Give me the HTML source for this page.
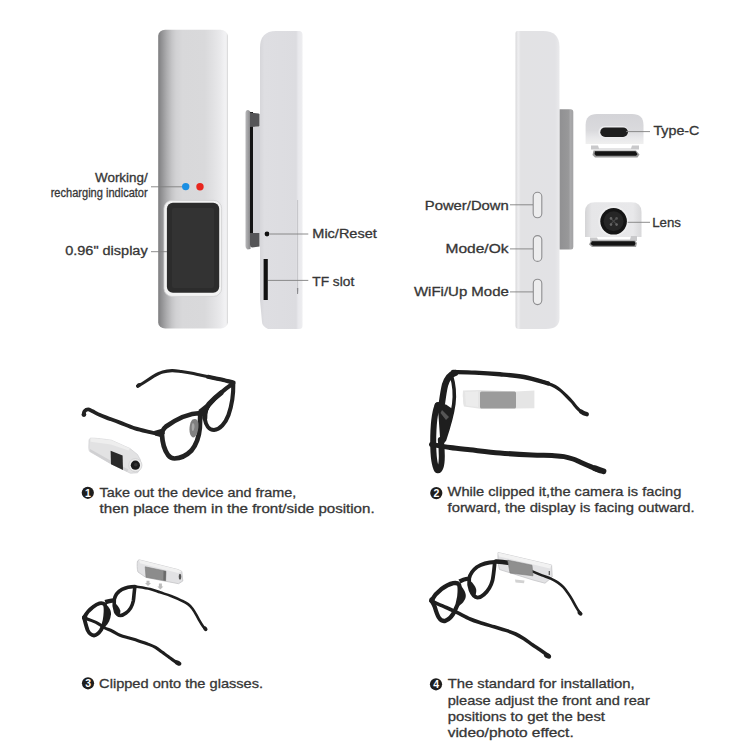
<!DOCTYPE html>
<html><head><meta charset="utf-8">
<style>
html,body{margin:0;padding:0;background:#fff;}
body{width:750px;height:750px;overflow:hidden;}
svg{display:block;}
text{font-family:"Liberation Sans",sans-serif;fill:#363636;stroke:#363636;stroke-width:0.3px;}
</style></head><body>
<svg width="750" height="750" viewBox="0 0 750 750">
<defs>
 <linearGradient id="g1" x1="0" x2="1" y1="0" y2="0">
  <stop offset="0" stop-color="#7e7e80"/>
  <stop offset="0.04" stop-color="#8e8e90"/>
  <stop offset="0.12" stop-color="#acacae"/>
  <stop offset="0.2" stop-color="#c6c6c8"/>
  <stop offset="0.26" stop-color="#d2d2d4"/>
  <stop offset="0.35" stop-color="#d8d8da"/>
  <stop offset="0.67" stop-color="#d9d9db"/>
  <stop offset="0.8" stop-color="#e2e2e4"/>
  <stop offset="0.9" stop-color="#eaeaec"/>
  <stop offset="0.965" stop-color="#f2f2f4"/>
  <stop offset="0.985" stop-color="#eeeeef"/>
  <stop offset="1" stop-color="#c0c0c2"/>
 </linearGradient>
 <linearGradient id="g2" x1="0" x2="1" y1="0" y2="0">
  <stop offset="0" stop-color="#d6d6da"/>
  <stop offset="0.1" stop-color="#dedee2"/>
  <stop offset="0.85" stop-color="#dcdce0"/>
  <stop offset="0.9" stop-color="#e8e8ec"/>
  <stop offset="1" stop-color="#eeeef0"/>
 </linearGradient>
 <linearGradient id="g3" x1="0" x2="1" y1="0" y2="0">
  <stop offset="0" stop-color="#d8d8da"/>
  <stop offset="0.06" stop-color="#eeeef0"/>
  <stop offset="0.12" stop-color="#e2e2e4"/>
  <stop offset="0.9" stop-color="#e2e2e5"/>
  <stop offset="1" stop-color="#eaeaec"/>
 </linearGradient>
 <linearGradient id="gcl" x1="0" x2="1" y1="0" y2="0">
  <stop offset="0" stop-color="#b8b8ba"/>
  <stop offset="0.5" stop-color="#a0a0a2"/>
  <stop offset="1" stop-color="#848486"/>
 </linearGradient>
 <linearGradient id="gclip" x1="0" x2="1" y1="0" y2="0">
  <stop offset="0" stop-color="#909092"/>
  <stop offset="0.65" stop-color="#989899"/>
  <stop offset="0.8" stop-color="#a9a9ab"/>
  <stop offset="1" stop-color="#a2a2a4"/>
 </linearGradient>
 <linearGradient id="gl" x1="0" x2="1" y1="0" y2="0">
  <stop offset="0" stop-color="#d4d4d6"/>
  <stop offset="0.12" stop-color="#e6e6e8"/>
  <stop offset="0.85" stop-color="#e8e8ea"/>
  <stop offset="1" stop-color="#d8d8da"/>
 </linearGradient>
 <linearGradient id="gc" x1="0" x2="0" y1="0" y2="1">
  <stop offset="0" stop-color="#d4d4d8"/>
  <stop offset="0.55" stop-color="#dadadd"/>
  <stop offset="0.8" stop-color="#e8e8ea"/>
  <stop offset="1" stop-color="#efefef"/>
 </linearGradient>
</defs>

<!-- ===== Device 1 (front) ===== -->
<rect x="158.2" y="29.8" width="69.4" height="298.6" rx="7" ry="6" fill="url(#g1)"/>
<rect x="164" y="200.4" width="57.6" height="96" rx="8" fill="#f3f3f3" stroke="#cfcfd1" stroke-width="0.8"/>
<rect x="166.9" y="202.8" width="52.3" height="90" rx="6" fill="#2c2c2c"/>
<rect x="172" y="208" width="42" height="80" rx="2" fill="#333333"/>
<circle cx="185.7" cy="186.6" r="3.7" fill="#1b8fe3"/>
<circle cx="200" cy="186.8" r="3.7" fill="#e8261e"/>

<!-- ===== Device 2 (side) ===== -->
<!-- clip -->
<path d="M245.5 113 Q245.6 110 248 110 Q249.6 110.3 250.5 112 L250.5 249 L247.5 249.5 Q245.5 249 245.5 246 Z" fill="url(#gcl)"/>
<rect x="250" y="112" width="3" height="121" fill="#141414"/>
<path d="M250 112.5 L258.5 113.5 L259.5 114 L259.5 126.5 L250 127 Z" fill="#555557"/>
<path d="M250 233 L259.5 233 L259.5 246.5 L252 247.5 Q250 247 250 245 Z" fill="#555557"/>
<rect x="253" y="127" width="7" height="106" fill="#d2d2d6"/>
<path d="M260 48 Q260 31 276 31 L299 31 Q302.5 31 302.5 35 L302.5 326 Q302.5 329 299 329 L268 329 Q262 326 262 322 L260 300 Z" fill="url(#g2)"/>
<line x1="297.6" y1="200" x2="297.6" y2="291" stroke="#c4c4c8" stroke-width="1"/>
<path d="M296.9 288 L298.3 288 L298.1 294 L297.1 294 Z" fill="#8a8a8e"/>
<circle cx="267" cy="234" r="2.4" fill="#111"/>
<rect x="263.6" y="259" width="4.2" height="41" fill="#111"/>

<!-- ===== Device 3 (side, buttons) ===== -->
<path d="M559.3 109.3 L571 109.3 Q573.3 109.3 573.3 111.8 L573.3 247 Q573.3 249.6 571 249.6 L559.3 249.6 Z" fill="url(#gclip)"/>
<path d="M515.5 33 Q515.5 31 517.5 31 L543 31 Q559.5 31 559.5 47 L559.5 318 Q559.5 329 546 329 L519 329 Q515.5 329 515.5 326 Z" fill="url(#g3)"/>
<rect x="533.2" y="192.3" width="8.6" height="25.5" rx="4.3" fill="#ededee" stroke="#8e8e90" stroke-width="1.1"/>
<rect x="533.3" y="235.6" width="8.5" height="25.8" rx="4.25" fill="#ededee" stroke="#8e8e90" stroke-width="1.1"/>
<rect x="533.3" y="279.2" width="8.5" height="25.4" rx="4.25" fill="#ededee" stroke="#8e8e90" stroke-width="1.1"/>

<!-- Type-C -->
<path d="M585.6 144 L585.6 125 Q585.6 114 597 114 L632 114 Q643.5 114 643.5 125 L643.5 144 Z" fill="url(#gc)"/>
<rect x="598.5" y="126" width="30" height="12.3" rx="6" fill="#ececee"/>
<rect x="600.3" y="127.4" width="27.6" height="9.6" rx="4.8" fill="#1e1e1e"/>
<path d="M591 145.5 L598 145.5 L599 148.5 L631 148.5 L632 145.5 L639 145.5 L639 149.5 L591 149.5 Z" fill="#c9c9cb"/>
<path d="M593.5 150.5 L636 150.5 L639.5 154.5 L637.5 157.5 L595 157.5 L592.5 155 Z" fill="#9a9a9a"/>
<path d="M595 151.3 L635.5 151.3 L637.5 154.3 L636 155.8 L596 155.8 L594.5 154 Z" fill="#141414"/>
<!-- Lens -->
<path d="M585 237 L585 212 Q585 202.2 595 202.2 L631.5 202.2 Q641.5 202.2 641.5 212 L641.5 237 Z" fill="url(#gl)"/>
<circle cx="613.6" cy="221.3" r="15.3" fill="#eeeeef"/>
<circle cx="613.6" cy="221.3" r="13.3" fill="#151515"/>
<circle cx="613.6" cy="221.3" r="10" fill="#262626"/>
<g stroke="#4a4a4a" stroke-width="1.2"><line x1="610.5" y1="218.2" x2="616.7" y2="224.4"/><line x1="616.7" y1="218.2" x2="610.5" y2="224.4"/></g>
<circle cx="611" cy="218.4" r="1.3" fill="#666"/>
<circle cx="616.6" cy="218.4" r="1.3" fill="#555"/>
<circle cx="611" cy="224.6" r="1.3" fill="#666"/>
<circle cx="616.6" cy="224.6" r="1.3" fill="#666"/>
<path d="M590 237.5 L597 237.5 L598 239.5 L630 239.5 L631 236 L637 236 L637 241 L590 241 Z" fill="#c9c9cb"/>
<path d="M591 240.5 L635 240.5 L637 243 L636 247 L592 247 L589 244.5 Z" fill="#9a9a9a"/>
<path d="M592 241.3 L634.5 241.3 L635.5 243.5 L634.5 245.8 L593 245.8 L590.5 244 Z" fill="#141414"/>

<!-- leader lines -->
<g stroke="#808080" stroke-width="0.9">
 <line x1="151" y1="186.8" x2="182" y2="186.8"/>
 <line x1="151" y1="251.7" x2="167" y2="251.7"/>
 <line x1="270" y1="234" x2="308.3" y2="234"/>
 <line x1="268" y1="280.4" x2="308.3" y2="280.4"/>
 <line x1="626" y1="131.6" x2="650" y2="131.6"/>
 <line x1="627.6" y1="222.3" x2="650" y2="222.3"/>
 <line x1="510" y1="204.8" x2="533" y2="204.8"/>
 <line x1="510" y1="248.9" x2="533" y2="248.9"/>
 <line x1="510" y1="291.9" x2="533" y2="291.9"/>
</g>

<!-- labels -->
<g font-size="12.5">
 <text x="95" y="182.4" textLength="52.7" lengthAdjust="spacingAndGlyphs">Working/</text>
 <text x="50.7" y="196.7" textLength="97" lengthAdjust="spacingAndGlyphs">recharging indicator</text>
 <text x="65.2" y="255" textLength="82.5" lengthAdjust="spacingAndGlyphs">0.96" display</text>
</g>
<g font-size="13">
 <text x="312.3" y="238.3" textLength="64.5" lengthAdjust="spacingAndGlyphs">Mic/Reset</text>
 <text x="312.3" y="285.5" textLength="41.9" lengthAdjust="spacingAndGlyphs">TF slot</text>
 <text x="653.4" y="135.2" textLength="46" lengthAdjust="spacingAndGlyphs">Type-C</text>
 <text x="652.2" y="227.4" textLength="28.8" lengthAdjust="spacingAndGlyphs">Lens</text>
 <text x="424.8" y="210" textLength="84" lengthAdjust="spacingAndGlyphs">Power/Down</text>
 <text x="445.5" y="253.2" textLength="63" lengthAdjust="spacingAndGlyphs">Mode/Ok</text>
 <text x="414" y="296.4" textLength="94.8" lengthAdjust="spacingAndGlyphs">WiFi/Up Mode</text>
</g>

<!-- ===== Step texts ===== -->
<g font-size="13">
 <text x="99.6" y="497" textLength="196.6" lengthAdjust="spacingAndGlyphs">Take out the device and frame,</text>
 <text x="99.6" y="513.2" textLength="275" lengthAdjust="spacingAndGlyphs">then place them in the front/side position.</text>
 <text x="447.6" y="495.9" textLength="233.7" lengthAdjust="spacingAndGlyphs">While clipped it,the camera is facing</text>
 <text x="447.6" y="511.7" textLength="247" lengthAdjust="spacingAndGlyphs">forward, the display is facing outward.</text>
 <text x="99.1" y="688.1" textLength="164" lengthAdjust="spacingAndGlyphs">Clipped onto the glasses.</text>
 <text x="447.7" y="688.3" textLength="187" lengthAdjust="spacingAndGlyphs">The standard for installation,</text>
 <text x="447.7" y="704.6" textLength="202.1" lengthAdjust="spacingAndGlyphs">please adjust the front and rear</text>
 <text x="447.7" y="721" textLength="157.3" lengthAdjust="spacingAndGlyphs">positions to get the best</text>
 <text x="447.7" y="737.4" textLength="126" lengthAdjust="spacingAndGlyphs">video/photo effect.</text>
</g>
<g>
 <circle cx="87.8" cy="492.8" r="6.1" fill="#1e1e1e"/>
 <circle cx="436.3" cy="493.1" r="6.1" fill="#1e1e1e"/>
 <circle cx="88" cy="683.3" r="6.1" fill="#1e1e1e"/>
 <circle cx="436" cy="684.3" r="6.1" fill="#1e1e1e"/>
</g>
<g font-size="10.5" font-weight="bold" text-anchor="middle" style="fill:#fff;stroke:none">
 <text x="87.9" y="496.6" style="fill:#fff;stroke:none">1</text>
 <text x="436.4" y="496.9" style="fill:#fff;stroke:none">2</text>
 <text x="88.1" y="687.1" style="fill:#fff;stroke:none">3</text>
 <text x="436.1" y="688.1" style="fill:#fff;stroke:none">4</text>
</g>

<!-- ===== Glasses ===== -->
<!-- panel 1 -->
<g fill="none" stroke="#222" stroke-linecap="round" stroke-linejoin="round">
 <path d="M137.8 386.0 C138.8 385.4 141.4 384.1 144.0 382.5 C146.6 380.9 150.2 378.1 153.3 376.3 C156.4 374.6 159.6 372.9 162.7 372.0 C165.8 371.1 168.9 370.7 172.0 370.6 C175.1 370.5 178.2 371.1 181.3 371.5 C184.4 371.9 187.6 372.4 190.7 373.0 C193.8 373.6 196.8 374.3 200.0 375.0 C203.2 375.7 206.7 376.5 210.0 377.2 C213.3 377.9 216.1 378.4 220.0 379.3 C223.9 380.2 231.2 382.0 233.5 382.5" stroke-width="3.1"/>
 <path d="M208.0 376.8 C210.0 377.2 215.8 378.4 220.0 379.3 C224.2 380.2 231.2 382.0 233.5 382.5" stroke-width="4.2"/>
 <path d="M233.3 383.3 C233.5 393 232 405 228.5 415 C225.5 423 220 429.5 214 430 C209 430 205.8 425 204.8 419 C204.2 414 205.5 409.5 208.5 405.5 C215 397.5 223.5 390 233.3 383.3 Z" stroke-width="4.1"/>
 <path d="M204.8 418 C204.5 412 206 407.5 209 404 C213 399.5 217 396 221 393" stroke-width="5"/>
 <path d="M200.3 413 C191 413.3 178 418 166 426.5 C163 429 161.8 431.5 162 435 C162.3 441 163.8 449 168 455 C170 457.5 172 458.5 174.5 458.5 C181.5 458.3 187 455 191.5 450.5 C196 445 199 437 199.8 428 Z" stroke-width="4.7"/>
 <path d="M83.6 414.8 C83.8 414.2 83.7 412.1 84.5 411.2 C85.3 410.3 87.0 409.4 88.2 409.4 C89.5 409.4 90.0 410.1 92.0 411.0 C94.0 411.9 97.0 413.8 100.0 415.1 C103.0 416.4 106.7 417.6 110.0 418.9 C113.3 420.1 115.8 421.0 120.0 422.6 C124.2 424.2 130.0 426.8 135.0 428.4 C140.0 430.0 146.2 431.2 150.0 432.1 C153.8 433.0 156.7 433.7 158.0 434.0" stroke-width="3.8"/>
</g>
<g fill="#222">
 <ellipse cx="138.6" cy="385.4" rx="2.8" ry="2.1" transform="rotate(-35 138.6 385.4)"/>
 <circle cx="84" cy="414.5" r="2.3"/>
 <path d="M198.5 410 L205.5 404.5 L209.5 407 L205 416 L200 416.5 Z"/>
 <path d="M154 431 L161 429 L165 433 L162 437.5 L155 435.5 Z"/>
</g>
<path d="M192.5 419.5 C195.5 418 198.5 419.5 198.5 425 C198.5 431 196.5 436.5 193.5 437.5 C190.5 437 189.2 433 189.5 428 C189.8 424 190.8 421 192.5 419.5 Z" fill="#808080"/>
<path d="M192.3 423.5 C193.6 422.5 194.8 424 194.4 427.5 C194 430.5 193 431.5 192.1 430.5 C191.5 428.5 191.6 425.5 192.3 423.5 Z" fill="#a8a8a8"/>

<!-- panel 1 device -->
<path d="M90.5 438.2 C95 437.8 106 439.5 111.4 440.2 L130 448.5 L137.5 454.5 L140.5 460 L140.8 468 L137.5 472.8 L130.5 473.3 L109.8 463.2 L89.8 451.6 C89 450.8 88.8 449 88.8 447 L89 440.5 C89.2 439.2 89.8 438.4 90.5 438.2 Z" fill="#e2e2e3" stroke="#cacacc" stroke-width="0.6"/>
<path d="M90.5 438.2 C95 437.8 106 439.5 111.4 440.2 L130 448.5 L128.5 450.5 L111 444.5 L90.5 441.8 Z" fill="#eeeeee"/>
<path d="M89.8 451.6 L109.8 463.2 L127 471.8 L128.5 469.5 L110.5 460.5 L90 449 Z" fill="#d0d0d2"/>
<path d="M110.6 450.8 L122.6 455.5 L123 470 L111 464.2 Z" fill="#2a2a2a"/>
<circle cx="135.4" cy="465.2" r="6.6" fill="#ebebeb" stroke="#c8c8ca" stroke-width="0.6"/>
<circle cx="135.4" cy="465.2" r="4.6" fill="#1a1a1a"/>
<circle cx="135.8" cy="464.8" r="1.8" fill="#333"/>

<!-- panel 2 device -->
<path d="M463 390.5 L480 390 L516 391.4 L534.4 390.6 L534.4 408.2 L516 408.4 L480 408.8 L464 406.5 C462.5 403 463.5 399 462.7 396 Z" fill="#e5e5e5"/>
<path d="M465 392 L478 391.5 L478 407 L466 405.5 Z" fill="#ececec"/>
<rect x="480" y="391.5" width="36" height="17" rx="1.5" fill="#9b9b9b"/>
<!-- panel 2 glasses -->
<g fill="none" stroke="#1e1e1e" stroke-linecap="round" stroke-linejoin="round">
 <path d="M453.0 372.0 C456.7 372.1 467.2 372.2 475.0 372.6 C482.8 373.0 491.8 373.6 500.0 374.3 C508.2 375.0 516.0 375.5 524.0 377.0 C532.0 378.5 544.0 382.3 548.0 383.4" stroke-width="4.4"/>
 <path d="M540.0 381.0 C541.3 381.4 545.5 382.5 548.0 383.4 C550.5 384.3 552.9 385.3 555.0 386.5 C557.1 387.7 558.9 389.0 560.8 390.6 C562.7 392.2 564.6 394.1 566.5 396.0 C568.4 397.9 570.2 399.8 572.0 401.8 C573.8 403.8 575.5 406.2 577.0 407.8 C578.5 409.4 579.7 410.6 581.0 411.5 C582.3 412.4 584.3 413.2 585.0 413.5" stroke-width="3.2"/>
 <path d="M455 373 C450 374.5 446.8 379 445 385 C443.5 391 442.5 399 441.5 406" stroke-width="6.4"/>
 <path d="M451.5 376 C454 384 455 394 453.8 404 C452.3 415 448.5 428 444.5 440" stroke-width="3.6"/>
 <path d="M437.5 405.5 C434.5 413 433.2 428 433.2 442 C433.2 456 434.6 466 437.2 470.2 C440 471 441.8 466 441.8 456 C441.8 449 441.3 444 440.8 440" stroke-width="6"/>
 <path d="M431.5 444.5 C434.6 445.0 443.6 446.6 450.0 447.5 C456.4 448.4 461.7 448.9 470.0 449.8 C478.3 450.7 489.7 452.1 500.0 453.0 C510.3 453.9 523.3 454.6 532.0 455.0 C540.7 455.4 546.7 455.3 552.0 455.6 C557.3 455.9 560.5 456.0 564.0 456.6 C567.5 457.2 570.3 458.1 573.0 459.0 C575.7 459.9 577.5 460.9 580.0 462.0 C582.5 463.1 585.3 464.3 588.0 465.5 C590.7 466.7 594.0 468.1 596.0 469.0 C598.0 469.9 599.3 470.3 600.0 470.6" stroke-width="5"/>
</g>
<g fill="#1e1e1e">
 <circle cx="438.2" cy="405.5" r="3.6"/>
 <path d="M437 404 L446 404.5 L454 410 L451.5 421 L447.5 433 L444.5 443 L440.5 444.5 L439.5 430 L438.5 416 Z"/>
</g>
<path d="M442 410 L449 417 L446 420 L440.5 413 Z" fill="#555"/>

<g fill="none" stroke="#1e1e1e" stroke-linecap="round">
 <path d="M581 411.5 C583 413 585 413.8 586.8 414.2" stroke-width="4.3"/>
 <path d="M595 468.3 C598 469.5 601 470.6 603.5 471.3" stroke-width="5.8"/>
</g>
<!-- panel 3 device -->
<path d="M139 559.8 L178 569.6 L181.8 571.4 L182.8 581 L178.5 583.7 L146 577.5 L138 572 C137 570 137 563 137.5 561 Z" fill="#e2e2e4" stroke="#c4c4c6" stroke-width="0.8" stroke-linejoin="round"/>
<path d="M139 559.8 L178 569.6 L181.8 571.4 L178 573 L140 563.3 Z" fill="#f1f1f1"/>
<path d="M145.2 566.8 L166 571.2 L165.6 580.8 L146 577.2 Z" fill="#8c8c8c" stroke="#7c7c7c" stroke-width="0.6" stroke-linejoin="round"/>
<path d="M163.5 570.8 L166 571.2 L165.6 580.8 L163.3 580.3 Z" fill="#6a6a6a"/>
<ellipse cx="180" cy="576.8" rx="1.3" ry="3" fill="#555"/>
<g fill="#bdbdbd">
 <path d="M146.5 580.8 L149.5 580.8 L149.5 583 L151 583 L148 586 L145 583 L146.5 583 Z"/>
 <path d="M158.9 583.6 L161.9 583.6 L161.9 586.5 L163.4 586.5 L160.4 589.5 L157.4 586.5 L158.9 586.5 Z"/>
</g>
<!-- panel 3 glasses -->
<g fill="none" stroke="#1e1e1e" stroke-linecap="round" stroke-linejoin="round">
 <path d="M133.9 586.3 C136.6 586.8 145.7 588.0 150.0 589.0 C154.3 590.0 156.5 591.1 160.0 592.3 C163.5 593.5 167.3 594.6 171.0 596.0 C174.7 597.4 179.2 599.4 182.0 600.8 C184.8 602.1 186.3 602.8 188.0 604.1 C189.7 605.4 191.0 606.8 192.3 608.5 C193.6 610.2 194.8 612.2 196.0 614.3 C197.2 616.4 198.4 618.8 199.6 620.9 C200.8 623.0 202.4 625.5 203.3 626.8 C204.2 628.1 204.9 628.5 205.2 628.8" stroke-width="2.6"/>
 <path d="M135 586.5 C134 592 134 597 133.3 601 C132.3 606 129.5 610.5 126 613 C124 614.5 122 615.5 120.5 615.5 C118.5 615.3 116.5 614 115.5 611.5 C114.3 608 113.9 603 114.3 599.5 C115.2 595 118 591.5 122 589.3 C126 587.3 130.5 586.5 135 586.5 Z" stroke-width="3.6"/>
 <path d="M84 617.5 C86.5 613 89.5 609.5 93 607 C95.5 605 97.5 603.8 99.5 603.3 C101.5 602.9 103.5 603.2 104.8 604.5 C105.9 606.5 105.8 611 105.3 616 C104.8 621 103.5 626 101 630 C99 633 96.5 635.3 94 635.5 C91.5 635.3 89.3 633.5 87.8 630.5 C86.3 627 85.3 622.5 84 617.5 Z" stroke-width="3.9"/>
 <path d="M83.5 617.8 C85.6 618.5 92.6 620.7 96.0 622.3 C99.4 623.9 101.3 626.0 104.0 627.5 C106.7 629.0 109.3 629.7 112.0 631.0 C114.7 632.3 117.1 634.1 120.0 635.3 C122.9 636.5 126.2 637.2 129.3 638.1 C132.4 639.0 135.6 639.9 138.7 640.9 C141.8 641.9 145.2 643.0 148.0 644.1 C150.8 645.2 153.2 646.1 155.5 647.4 C157.8 648.7 159.8 650.5 162.0 652.1 C164.2 653.7 166.5 655.2 168.5 656.7 C170.5 658.2 172.6 659.9 174.1 660.9 C175.6 661.9 176.9 662.5 177.5 662.8" stroke-width="3.1"/>
</g>
<g fill="#1e1e1e">
 <ellipse cx="205.3" cy="628.8" rx="2.6" ry="1.9" transform="rotate(50 205.3 628.8)"/>
 <ellipse cx="178" cy="663" rx="3.6" ry="2.3" transform="rotate(30 178 663)"/>
 <circle cx="84.8" cy="617.6" r="2.6"/>
 <path d="M104.5 600 C107 599.5 110 598.3 114.5 598.3 L115 602.5 C111 602.5 108.5 603.5 106 604.5 Z"/>
 <path d="M114.5 602.5 C116.5 604 119.5 607.5 120.3 610.5 C120.8 613 119.5 615.2 117.5 614.5 C115.5 613 114.5 609 114.5 602.5 Z"/>
 <path d="M105.5 604.5 C109 606.5 111.3 610.5 111 614.5 C110.6 619 108.5 623.5 105 627 Z"/>
</g>

<!-- panel 4 device -->
<path d="M498 552.5 L551.6 565 L552.2 577 L545 583.2 L533 580 L499.5 569.5 C498.3 566 497.8 558 498 552.5 Z" fill="#e2e2e4" stroke="#c4c4c6" stroke-width="0.8" stroke-linejoin="round"/>
<path d="M498 552.5 L551.6 565 L550 568.5 L499 556.5 Z" fill="#f2f2f2"/>
<line x1="549.3" y1="571" x2="549.3" y2="575" stroke="#555" stroke-width="1.2"/>
<path d="M515 579.5 L524.5 580.5 L524 583.3 L515.5 582.5 Z" fill="#d2d2d2"/>
<!-- panel 4 glasses -->
<g fill="none" stroke="#1e1e1e" stroke-linecap="round" stroke-linejoin="round">
 <path d="M496 561.5 C500 561.8 504 562.2 508 562.8" stroke-width="4.5"/>
 <path d="M532.4 571.4 C534.0 572.1 538.9 574.2 542.0 575.4 C545.1 576.6 548.1 577.4 550.8 578.6 C553.5 579.8 555.9 581.1 558.0 582.6 C560.1 584.1 561.9 585.5 563.6 587.4 C565.3 589.3 566.9 591.7 568.4 593.8 C569.9 595.9 571.1 597.9 572.4 600.2 C573.7 602.5 575.1 605.2 576.4 607.4 C577.7 609.6 579.6 612.2 580.2 613.2" stroke-width="2.6"/>
 <path d="M494.8 562 C494.3 567 493.8 574 492.5 580.5 C491 586 488 591 484 594.5 C482 596.3 479.5 597.6 477.5 597.6 C474.5 597.3 472 594 470.5 590 C469.2 586.5 468.8 582 469.2 578.5 C470 574 473 570 477 567 C482 563.8 488 562.3 494.8 562 Z" stroke-width="3.8"/>
 <path d="M431.5 600.5 C434 596 437.5 592 441.5 589 C445.5 586 449.5 584 453.3 583.2 C455.5 582.8 457.8 583 459 584.5 C460 587 459.8 592 459.3 596.5 C458.7 602 457 607 454.5 611.5 C452.5 615.5 449 619.5 445.5 620.8 C442.5 621.5 440.3 620 438.8 617.5 C437 614.5 435.8 610.5 434.8 607 C433.8 604.5 432.8 602.5 431.5 600.5 Z" stroke-width="4.3"/>
 <path d="M431.0 601.0 C433.5 602.1 441.9 605.6 446.2 607.5 C450.5 609.4 452.8 610.5 456.8 612.4 C460.8 614.3 465.8 617.2 470.0 619.0 C474.2 620.8 478.0 621.9 482.0 623.2 C486.0 624.5 490.0 625.6 494.0 626.8 C498.0 628.0 502.4 629.2 506.0 630.4 C509.6 631.6 512.6 632.6 515.6 634.0 C518.6 635.4 521.2 637.0 524.0 638.8 C526.8 640.6 529.8 643.0 532.4 644.8 C535.0 646.6 537.4 648.1 539.6 649.6 C541.8 651.1 544.2 652.8 545.6 653.8 C547.0 654.8 547.6 655.0 548.0 655.3" stroke-width="3.6"/>
</g>
<g fill="#1e1e1e">
 <ellipse cx="580" cy="613.3" rx="2.8" ry="2" transform="rotate(40 580 613.3)"/>
 <ellipse cx="547.5" cy="655.8" rx="3.8" ry="2.4" transform="rotate(25 547.5 655.8)"/>
 <circle cx="432" cy="600" r="2.7"/>
 <path d="M458.5 579.5 C461 578.5 464 577 469 576.5 L469.5 580.5 C466 580.8 463 582 460.5 583.5 Z"/>
 <path d="M469 579.5 C472 582 475.5 586 476.2 589.5 C476.5 593 475.5 596 474 596.5 C471.5 594.5 469.5 590 469 585 Z"/>
 <path d="M459.5 584.5 C463 587.5 465.8 592 465.8 596 C465.5 600.5 462 604 458.5 606 Z"/>
</g>
<path d="M507.7 560.2 L532 565.2 L533 575.8 L510 573 Z" fill="#8f8f8f" stroke="#7a7a7a" stroke-width="0.6" stroke-linejoin="round"/>

</svg>
</body></html>
